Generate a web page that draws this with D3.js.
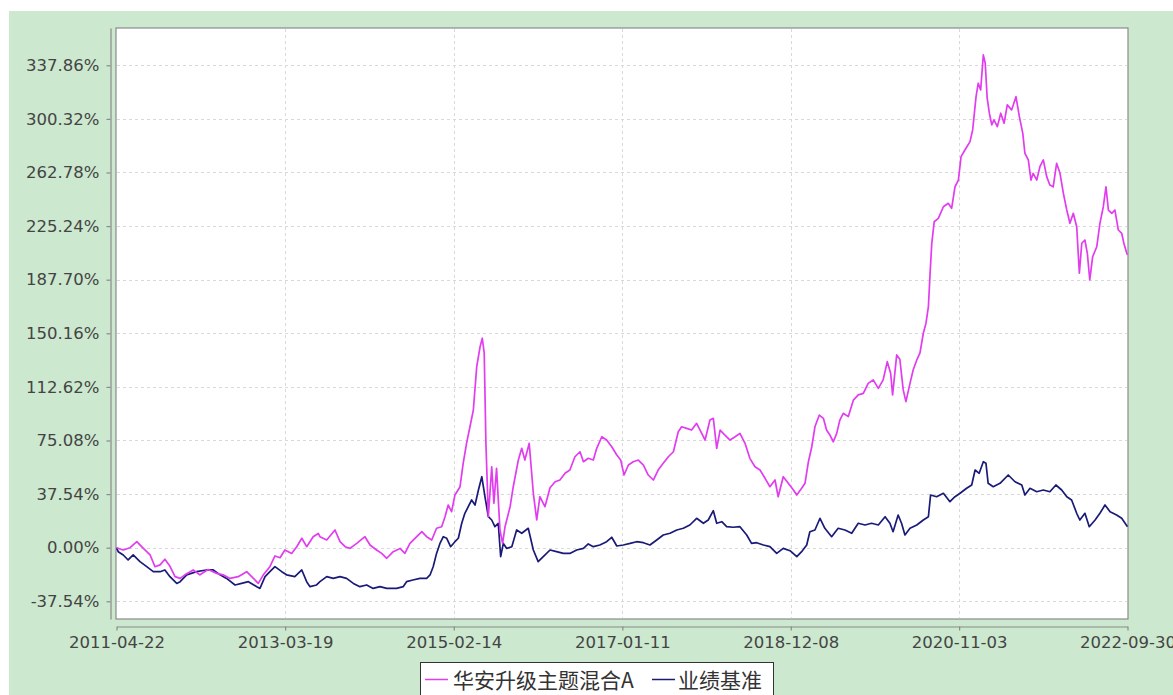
<!DOCTYPE html>
<html><head><meta charset="utf-8">
<script src="https://cdn.jsdelivr.net/npm/d3@7"></script>
<style>body{margin:0;background:#fff}svg{display:block}</style>
</head><body>
<svg id="chart" width="1173" height="695"></svg>
<script>
const seriesNames = ["华安升级主题混合A", "业绩基准"];
const xTickDates = ["2011-04-22","2013-03-19","2015-02-14","2017-01-11","2018-12-08","2020-11-03","2022-09-30"];
const yTickValues = [-37.54, 0, 37.54, 75.08, 112.62, 150.16, 187.70, 225.24, 262.78, 300.32, 337.86];
const yTickLabels = ["-37.54%","0.00%","37.54%","75.08%","112.62%","150.16%","187.70%","225.24%","262.78%","300.32%","337.86%"];

const fundDates = ["2011-04-22","2011-05-20","2011-06-17","2011-07-15","2011-08-11","2011-09-08","2011-09-28","2011-10-19","2011-11-08","2011-11-29","2011-12-20","2012-01-10","2012-01-30","2012-03-04","2012-04-01","2012-05-05","2012-06-09","2012-07-06","2012-08-03","2012-09-06","2012-10-11","2012-11-08","2012-11-28","2012-12-19","2013-01-15","2013-02-05","2013-02-26","2013-03-18","2013-04-15","2013-05-06","2013-05-27","2013-06-16","2013-07-13","2013-08-03","2013-08-10","2013-09-07","2013-10-11","2013-11-01","2013-11-22","2013-12-12","2014-01-09","2014-02-12","2014-03-05","2014-04-01","2014-04-22","2014-05-13","2014-06-09","2014-07-07","2014-07-27","2014-08-17","2014-09-14","2014-10-05","2014-10-25","2014-11-15","2014-12-05","2014-12-26","2015-01-09","2015-01-22","2015-02-05","2015-02-19","2015-03-12","2015-03-25","2015-04-08","2015-04-22","2015-05-06","2015-05-20","2015-06-03","2015-06-12","2015-06-20","2015-06-27","2015-07-07","2015-07-21","2015-07-30","2015-08-10","2015-08-24","2015-09-04","2015-09-14","2015-10-05","2015-10-18","2015-11-08","2015-11-22","2015-12-05","2015-12-23","2016-01-09","2016-01-23","2016-02-05","2016-02-26","2016-03-18","2016-04-08","2016-04-28","2016-05-19","2016-06-08","2016-06-29","2016-07-20","2016-08-03","2016-08-23","2016-09-13","2016-09-27","2016-10-18","2016-11-07","2016-11-28","2016-12-19","2017-01-04","2017-01-18","2017-02-05","2017-02-25","2017-03-18","2017-04-08","2017-04-28","2017-05-19","2017-06-08","2017-06-29","2017-07-20","2017-08-10","2017-08-30","2017-09-13","2017-10-04","2017-10-24","2017-11-14","2017-12-05","2017-12-19","2018-01-08","2018-01-22","2018-02-05","2018-02-19","2018-03-11","2018-04-01","2018-04-22","2018-05-12","2018-06-02","2018-06-22","2018-07-13","2018-08-03","2018-08-24","2018-09-13","2018-10-04","2018-10-17","2018-11-07","2018-11-28","2018-12-19","2019-01-02","2019-01-22","2019-02-05","2019-02-19","2019-03-05","2019-03-18","2019-04-05","2019-04-22","2019-05-05","2019-05-19","2019-06-02","2019-06-16","2019-06-29","2019-07-13","2019-08-03","2019-08-24","2019-09-13","2019-10-04","2019-10-24","2019-11-14","2019-12-05","2019-12-25","2020-01-11","2020-01-25","2020-02-02","2020-02-19","2020-03-03","2020-03-17","2020-03-28","2020-04-14","2020-04-27","2020-05-12","2020-05-25","2020-06-08","2020-06-19","2020-06-29","2020-07-06","2020-07-13","2020-07-23","2020-08-09","2020-08-30","2020-09-19","2020-10-03","2020-10-17","2020-10-31","2020-11-11","2020-11-27","2020-12-18","2020-12-29","2021-01-12","2021-01-21","2021-01-31","2021-02-11","2021-02-19","2021-02-27","2021-03-08","2021-03-18","2021-03-27","2021-04-10","2021-04-24","2021-05-08","2021-05-21","2021-06-08","2021-06-26","2021-07-10","2021-07-24","2021-08-02","2021-08-16","2021-08-27","2021-09-05","2021-09-20","2021-10-03","2021-10-17","2021-10-31","2021-11-13","2021-11-27","2021-12-11","2021-12-25","2022-01-08","2022-01-22","2022-02-04","2022-02-18","2022-03-04","2022-03-15","2022-03-25","2022-04-07","2022-04-17","2022-04-27","2022-05-09","2022-05-26","2022-06-08","2022-06-22","2022-07-03","2022-07-13","2022-07-27","2022-08-09","2022-08-23","2022-09-06","2022-09-15","2022-09-27","2022-09-30"];
const fundValues = [0,-1.6,0,4.2,-0.5,-5.1,-13.3,-12,-8.1,-13,-20.3,-21.5,-19,-15.6,-19,-15.3,-18,-19,-21.5,-20.3,-16.8,-21.5,-25,-19,-13.3,-5.8,-7,-1.6,-4,0.7,6.6,0.7,7.7,10,7.7,5.4,12.4,4.2,0.7,-0.5,3,7.7,1.9,-1.6,-4,-7.4,-2.8,-0.5,-4,3,7.7,11.2,7.7,5.4,13.6,14.7,21.7,29.9,25.2,36.9,42.7,59.1,73.1,84.7,96.4,126.8,140.8,146.7,136.2,73.1,21.7,56.7,31.1,55.6,12.4,3,14.7,28.7,42.7,61.4,69.6,61.4,73.1,38.1,19.4,35.7,28.7,42,46.2,47.4,52.1,54.4,63.7,67.2,60.2,62.6,61.4,69.6,77.7,75.4,70.7,64.9,61.4,50.9,57.9,60.2,61.4,57.9,50.9,47.4,54.4,59.1,63.7,67.2,81.2,84.7,83.6,82.4,87.1,80.1,75.4,89.4,90.6,69.6,82.4,78.9,75.4,77.7,80.1,73.1,62.6,56.7,54.4,48.6,42.7,47.4,35.7,49.7,45.1,40.4,36.9,41.6,45.1,60.2,70.7,84.7,92.9,90.6,82.4,78.9,74.2,80.1,89.4,94.1,91.8,103.4,107,108.1,115.1,117.5,111.6,117.5,130.3,122.2,107,135,132,110.5,102.3,115.1,124.5,131.5,136.2,150.2,157.2,168.8,192.2,213.2,228.3,230.7,238.8,241.2,237.7,252.8,257.5,273.9,278.5,284.4,292.6,315.9,325.3,320.6,345.1,339.3,314.8,304.3,296.1,299.6,294.9,304.3,297.3,310.1,306.6,315.9,301.9,290.3,276.2,271.6,257.5,262.2,257.5,266.9,271.6,259.9,254,252.8,269.2,262.2,248.2,236.5,227.2,234.2,224.8,192.2,213.2,215.5,206.2,187.5,203.8,210.8,227.2,238.8,252.8,236.5,234.2,236.5,222.5,220.2,213.2,206.2,205];

const benchDates = ["2011-04-22","2011-04-29","2011-05-20","2011-06-09","2011-06-30","2011-07-28","2011-08-25","2011-09-21","2011-10-19","2011-11-08","2011-11-29","2011-12-27","2012-01-10","2012-02-06","2012-03-18","2012-04-28","2012-05-26","2012-06-23","2012-07-20","2012-08-24","2012-09-20","2012-10-18","2012-11-22","2012-12-05","2012-12-26","2013-01-15","2013-02-05","2013-03-05","2013-03-25","2013-04-28","2013-05-27","2013-06-16","2013-06-30","2013-07-27","2013-08-10","2013-09-07","2013-10-04","2013-11-01","2013-11-28","2013-12-26","2014-01-22","2014-02-19","2014-03-18","2014-04-15","2014-05-13","2014-06-23","2014-07-20","2014-08-03","2014-08-29","2014-09-27","2014-10-25","2014-11-08","2014-11-21","2014-12-05","2014-12-19","2015-01-02","2015-01-16","2015-02-01","2015-02-19","2015-03-05","2015-03-19","2015-04-01","2015-04-15","2015-04-29","2015-05-13","2015-05-27","2015-06-10","2015-06-23","2015-07-07","2015-07-21","2015-08-03","2015-08-17","2015-08-27","2015-09-07","2015-09-21","2015-10-12","2015-11-01","2015-11-22","2015-12-19","2016-01-09","2016-01-29","2016-02-19","2016-03-18","2016-04-14","2016-05-12","2016-06-08","2016-07-06","2016-08-03","2016-08-23","2016-09-13","2016-10-10","2016-11-07","2016-11-28","2016-12-19","2017-01-15","2017-02-12","2017-03-11","2017-04-08","2017-05-05","2017-06-02","2017-06-29","2017-07-27","2017-08-24","2017-09-20","2017-10-17","2017-11-14","2017-12-12","2018-01-01","2018-01-22","2018-02-05","2018-02-26","2018-03-18","2018-04-14","2018-05-12","2018-06-09","2018-06-29","2018-07-20","2018-08-17","2018-09-13","2018-10-11","2018-11-07","2018-12-05","2019-01-02","2019-01-22","2019-02-12","2019-02-25","2019-03-18","2019-04-08","2019-04-28","2019-05-26","2019-06-22","2019-07-20","2019-08-17","2019-09-13","2019-10-11","2019-11-07","2019-12-05","2020-01-02","2020-01-22","2020-02-04","2020-02-25","2020-03-10","2020-03-24","2020-04-14","2020-05-12","2020-06-08","2020-06-29","2020-07-08","2020-08-02","2020-08-30","2020-09-26","2020-10-17","2020-11-07","2020-12-04","2020-12-25","2021-01-08","2021-01-25","2021-02-11","2021-02-22","2021-03-03","2021-03-24","2021-04-21","2021-05-25","2021-06-22","2021-07-20","2021-08-02","2021-08-23","2021-09-20","2021-10-17","2021-11-13","2021-12-08","2022-01-01","2022-01-22","2022-02-11","2022-03-04","2022-03-17","2022-04-07","2022-04-25","2022-05-19","2022-06-08","2022-06-29","2022-07-20","2022-08-16","2022-09-06","2022-09-30"];
const benchValues = [0,-2.8,-5.1,-8.6,-5.1,-9.8,-13.3,-16.8,-16.8,-15.6,-20.3,-25,-23.8,-19,-16.8,-15.6,-15.6,-19,-21.5,-26.1,-25,-23.8,-27.3,-28.5,-20.3,-16.8,-13.3,-16.8,-19,-20.3,-15.6,-23.8,-27.3,-26.1,-23.8,-20.3,-21.5,-20.3,-21.5,-25,-27.3,-26.1,-28.5,-27.3,-28.5,-28.5,-27.3,-23.8,-22.6,-21.5,-21.5,-19.1,-13.3,-4,3,7.7,6.6,0.7,4.2,6.6,17.1,24.1,28.7,33.4,29.9,40.4,49.7,35.7,21.7,19.4,14.7,17.1,-6.3,3,-0.5,0.7,12.4,10.1,13.6,-1.6,-9.8,-6.3,-1.6,-2.8,-4,-4,-1.6,-0.5,2.6,0.7,1.9,4.2,7.3,1.2,1.9,3,4.2,3.5,1.9,5.4,8.9,10.1,12.4,13.6,15.9,20.6,17.1,19.4,25.9,17.1,18.2,14.7,14.3,14.7,8.9,3,3.5,1.9,0.7,-4,-0.5,-2.1,-6.3,-2.8,1.9,11.2,12.4,20.6,13.6,7.7,13.6,12.4,10.1,17.1,15.9,17.1,15.9,21.7,17.1,11.2,22.9,17.1,8.9,13.6,15.9,19.4,21.7,36.9,35.7,38.1,32.2,35.7,38.1,41.6,43.9,54.4,52.1,60.2,59.1,45.1,42.7,45.1,50.9,46.2,43.9,36.9,41.6,39.2,40.4,39.2,43.9,40.4,35.7,33.4,24.1,19.4,24.1,14.7,19.4,24.1,29.9,25.2,22.9,20.6,14.7];

(function () {
const W = 1173, H = 695;
const pL = 116.5, pR = 1127.5, pT = 28, pB = 619;
const parse = d3.timeParse("%Y-%m-%d");
const fmt = d3.timeFormat("%Y-%m-%d");
const fontAxis = "'DejaVu Sans', sans-serif";

const svg = d3.select("#chart");
svg.append("rect").attr("x", 9).attr("y", 11).attr("width", W - 9).attr("height", H - 11).attr("fill", "#CCE8CF");

const x = d3.scaleTime().domain([parse(xTickDates[0]), parse(xTickDates[xTickDates.length - 1])]).range([pL, pR]);
const y = d3.scaleLinear().domain([-49.94, 363.98]).range([pB, pT]);

svg.append("rect").attr("x", 116).attr("y", pT).attr("width", 1012).attr("height", pB - pT)
  .attr("fill", "#fff").attr("stroke", "#8a8a8a").attr("stroke-width", 1.2);

const grid = svg.append("g").attr("stroke", "#d9d9d9").attr("stroke-dasharray", "3,3").attr("stroke-width", 1);
yTickValues.forEach(v => {
  const py = Math.round(y(v)) + 0.5;
  grid.append("line").attr("x1", 117).attr("x2", 1127).attr("y1", py).attr("y2", py);
});
xTickDates.slice(1, -1).forEach(d => {
  const px = Math.round(x(parse(d))) + 0.5;
  grid.append("line").attr("x1", px).attr("x2", px).attr("y1", pT + 1).attr("y2", pB - 1);
});

const yAxis = d3.axisLeft(y).tickValues(yTickValues).tickFormat((d, i) => yTickLabels[i]).tickSize(4).tickSizeOuter(0).tickPadding(7);
const gy = svg.append("g").attr("transform", "translate(110.5,0)").call(yAxis);
const xAxis = d3.axisBottom(x).tickValues(xTickDates.map(parse)).tickFormat(fmt).tickSize(4).tickSizeOuter(0).tickPadding(6);
const gx = svg.append("g").attr("transform", "translate(0,626.5)").call(xAxis);
[gx, gy].forEach(g => {
  g.selectAll("path,line").attr("stroke", "#8a8a8a").attr("stroke-width", 1.2);
  g.selectAll("text").attr("fill", "#444").style("font-family", fontAxis).style("font-size", "16.5px");
});

svg.append("clipPath").attr("id", "clip").append("rect").attr("x", 116).attr("y", pT).attr("width", 1012).attr("height", pB - pT);
const line = d3.line().x(d => x(d.date)).y(d => y(d.value));
const benchData = benchDates.map((d, i) => ({date: parse(d), value: benchValues[i]}));
const fundData = fundDates.map((d, i) => ({date: parse(d), value: fundValues[i]}));
const plotG = svg.append("g").attr("clip-path", "url(#clip)");
plotG.append("path").datum(benchData).attr("d", line).attr("fill", "none").attr("stroke", "#1a1a78").attr("stroke-width", 1.7).attr("stroke-linejoin", "round");
plotG.append("path").datum(fundData).attr("d", line).attr("fill", "none").attr("stroke", "#e23cf0").attr("stroke-width", 1.7).attr("stroke-linejoin", "round");

const lg = svg.append("g");
lg.append("rect").attr("x", 420.5).attr("y", 662.5).attr("width", 353).attr("height", 40).attr("fill", "#fff").attr("stroke", "#333").attr("stroke-width", 1);
const colors = ["#e23cf0", "#1a1a78"];
const lx = [425, 652];
const tx = [453, 678];
seriesNames.forEach((n, i) => {
  lg.append("line").attr("x1", lx[i]).attr("x2", lx[i] + 23).attr("y1", 679.5).attr("y2", 679.5).attr("stroke", colors[i]).attr("stroke-width", 1.5);
  lg.append("text").attr("x", tx[i]).attr("y", 688).text(n).attr("fill", "#333")
    .style("font-family", "'Noto Sans CJK SC', sans-serif").style("font-size", "21px");
});
})();
</script>
</body></html>
